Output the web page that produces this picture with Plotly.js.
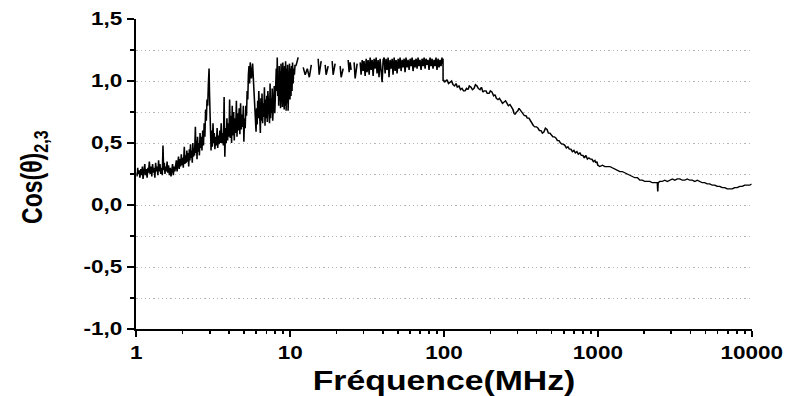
<!DOCTYPE html>
<html>
<head>
<meta charset="utf-8">
<script src="https://cdn.plot.ly/plotly-3.0.1.min.js"></script>
<style>
html,body{margin:0;padding:0;background:#fff;overflow:hidden;}
#wrap{width:788px;height:396px;overflow:hidden;}
#chart{width:630px;height:396px;transform:scaleX(1.2508);transform-origin:0 0;}
</style>
</head>
<body>
<div id="wrap"><div id="chart"></div></div>
<script>
// Frequency (MHz) and Cos(theta)_{2,3}; null = gap in the measured trace
const freq = [
1.000,1.010,1.020,1.030,1.045,1.055,1.070,1.080,1.095,1.105,1.120,1.135,1.145,1.160,1.175,1.190,1.200,1.215,1.230,1.245,
1.260,1.275,1.290,1.305,1.320,1.335,1.350,1.365,1.380,1.395,1.410,1.425,1.440,1.460,1.475,1.490,1.505,1.520,1.535,1.550,
1.565,1.585,1.600,1.620,1.640,1.660,1.680,1.700,1.720,1.740,1.760,1.780,
1.800,1.820,1.840,1.860,1.880,1.900,1.920,1.940,1.960,1.980,2.000,2.020,2.050,2.070,2.090,2.110,2.130,2.150,2.170,2.190,
2.210,2.230,2.250,2.270,2.290,2.310,2.330,2.350,2.370,2.390,2.420,2.440,2.460,2.480,2.500,2.520,2.545,2.570,2.595,2.620,
2.645,2.670,2.700,2.730,2.760,2.790,2.820,2.850,2.880,2.910,2.940,2.970,2.990,3.010,
3.030,3.060,3.090,3.120,3.150,3.180,3.210,3.240,3.280,3.310,3.350,3.380,3.420,3.450,3.490,3.520,3.560,3.600,3.640,3.680,
3.720,3.760,3.800,3.840,3.880,3.920,3.960,4.000,4.040,4.080,4.120,4.160,4.200,4.240,4.290,4.330,4.380,4.420,4.470,4.510,
4.560,4.610,4.660,4.710,4.760,4.810,4.860,4.910,4.960,5.000,5.050,5.100,5.150,5.200,5.250,5.300,5.350,5.400,5.450,5.500,
5.600,5.700,5.800,5.900,6.000,
6.050,6.100,6.150,6.200,6.250,6.300,6.350,6.400,6.450,6.500,6.560,6.620,6.680,6.740,6.800,6.860,6.920,6.980,7.040,7.100,
7.160,7.220,7.280,7.340,7.400,7.460,7.520,7.580,7.640,7.700,7.760,7.820,7.880,7.940,8.000,8.060,8.120,8.180,8.240,8.300,
8.360,8.420,8.480,8.540,8.600,8.660,8.720,8.780,8.840,8.900,8.960,9.020,9.080,9.140,9.200,9.270,9.340,9.410,9.480,9.550,
9.620,9.690,9.760,9.830,9.900,9.970,10.05,10.12,10.20,10.28,10.36,10.45,10.55,10.65,10.75,10.85,10.95,11.27,11.50,
12.15,12.52,12.92,13.32,13.72,14.0,
15.20,15.43,15.90,16.2,
16.88,17.13,17.65,18.0,
18.74,19.02,19.59,20.0,
21.12,21.44,22.09,22.5,
23.81,24.17,24.53,24.90,25.3,
26.04,26.43,27.24,27.8,
28.5,28.9,29.4,29.8,30.2,30.7,31.2,31.6,32.1,32.6,33.1,33.6,34.1,34.6,35.1,35.6,36.2,36.7,37.3,37.8,
38.4,39.0,39.6,40.2,40.8,41.4,42.0,42.6,43.3,43.9,44.6,45.3,46.0,46.6,47.4,48.1,48.8,49.5,50.3,51.0,
51.8,52.6,53.4,54.2,55.0,55.8,56.6,57.5,58.4,59.3,60.2,61.1,62.0,62.9,63.9,64.8,65.8,66.8,67.8,68.8,
69.8,70.9,72.0,73.1,74.2,75.3,76.4,77.6,78.7,79.9,81.1,82.3,83.6,84.8,86.1,87.4,88.7,90.0,91.4,92.8,
94.2,95.6,97.0,98.0,98.5,98.6,99.5,100.5,
104.6,107,109.4,112,114.4,117,119.7,122,125.1,128,130.9,134,136.9,140,143.2,146,149.7,153,156.6,160,
163.8,167,171.3,175,179.1,183,187.4,191,196.0,200,205.0,210,214.4,219,224.2,229,234.5,240,245.2,251,
256.5,262,268.3,274,280.6,285,289.1,296,302.4,307,311.5,318,325.9,333,340.8,348,356.4,364,372.8,381,
389.9,399,407.8,417,426.5,436,446.0,456,466.5,477,487.9,499,510.3,522,533.7,546,558.2,571,583.8,597,
610.6,624,638.6,653,667.9,683,698.6,714,730.6,747,764.1,781,799.2,817,835.9,855,874.3,894,914.4,935,
956.3,970,985.1,995,1000,1030,1070,1111,1150,1196,1240,1290,1340,1390,1440,1497,1550,1614,1675,1739,
1805,1874,1945,2020,2095,2176,2260,2345,2435,2450,2465,2527,2620,2723,2830,2934,3050,3162,3280,3407,
3540,3672,3810,3957,4110,4264,4430,4595,4770,4952,5140,5337,5540,5751,5970,6197,6430,6678,6930,7197,
7470,7756,8050,8358,8680,9007,9350,9705,10000
];
const cosTheta = [
0.26,0.23,0.30,0.25,0.28,0.22,0.29,0.24,0.31,0.21,0.27,0.33,0.24,0.29,0.22,0.30,0.26,0.35,0.25,0.31,
0.23,0.33,0.26,0.30,0.22,0.34,0.27,0.31,0.24,0.36,0.27,0.33,0.25,0.30,0.24,0.48,0.28,0.34,0.25,0.31,
0.27,0.35,0.26,0.32,0.24,0.30,0.23,0.29,0.33,0.24,0.31,0.27,
0.30,0.36,0.27,0.33,0.39,0.29,0.37,0.31,0.41,0.32,0.38,0.30,0.47,0.33,0.40,0.34,0.44,0.35,0.42,0.31,
0.45,0.36,0.49,0.38,0.44,0.34,0.50,0.39,0.46,0.40,0.63,0.42,0.52,0.37,0.55,0.43,0.50,0.40,0.58,0.46,
0.55,0.44,0.60,0.48,0.66,0.55,0.77,0.68,0.85,0.80,0.98,1.10,0.90,0.62,
0.52,0.44,0.60,0.47,0.66,0.50,0.58,0.45,0.55,0.48,0.62,0.46,0.56,0.49,0.60,0.50,0.66,0.50,0.58,0.48,
0.87,0.39,0.62,0.50,0.70,0.52,0.66,0.55,0.85,0.54,0.72,0.50,0.80,0.56,0.75,0.52,0.70,0.58,0.84,0.55,
0.74,0.60,0.78,0.57,0.82,0.61,0.73,0.63,0.80,0.51,0.70,0.62,0.80,0.72,0.92,0.85,1.05,1.12,0.98,1.15,
1.02,1.14,0.95,0.72,0.59,
0.78,0.65,0.84,0.70,0.92,0.64,0.80,0.58,0.86,0.68,0.90,0.66,0.82,0.71,0.95,0.64,0.85,0.70,0.88,0.67,
0.92,0.72,0.84,0.66,0.98,0.70,0.86,0.74,0.94,0.68,0.90,0.72,0.96,0.74,0.87,0.76,1.10,0.92,1.19,0.88,
1.05,0.80,1.12,0.84,1.08,0.78,1.14,0.82,1.06,0.79,1.15,0.83,1.10,0.77,1.12,0.80,1.16,0.76,1.10,0.82,
1.13,0.76,1.08,0.80,1.14,0.85,1.10,0.88,1.12,0.92,1.15,0.98,1.10,1.05,1.13,1.12,1.13,1.19,null,
1.11,1.05,1.10,1.03,1.13,null,
1.18,1.05,1.16,null,
1.13,1.05,1.12,null,
1.16,1.05,1.14,null,
1.12,1.03,1.10,null,
1.17,1.07,1.15,1.09,null,
1.15,1.02,1.14,null,
1.15,1.05,1.17,1.08,1.16,1.04,1.18,1.07,1.17,1.05,1.19,1.09,1.17,1.04,1.18,1.10,1.19,1.06,1.17,1.03,
1.18,1.08,0.99,1.17,1.19,1.06,1.18,1.09,1.19,1.03,1.17,1.10,1.18,1.05,1.19,1.08,1.17,1.06,1.18,1.10,
1.19,1.08,1.17,1.11,1.18,1.07,1.19,1.11,1.17,1.09,1.18,1.12,1.19,1.08,1.17,1.11,1.18,1.10,1.19,1.12,
1.17,1.09,1.18,1.12,1.19,1.10,1.18,1.13,1.17,1.09,1.19,1.12,1.18,1.10,1.17,1.12,1.19,1.09,1.18,1.11,
1.17,1.12,1.19,1.14,1.18,1.00,1.01,0.99,
1.01,0.98,0.99,1.00,0.97,0.96,0.98,0.95,0.96,0.93,0.94,0.92,0.92,0.94,0.93,0.96,0.95,0.93,0.94,0.97,
0.96,0.94,0.93,0.95,0.91,0.92,0.92,0.90,0.90,0.92,0.91,0.88,0.89,0.86,0.85,0.86,0.84,0.82,0.83,0.84,
0.82,0.80,0.81,0.79,0.77,0.74,0.73,0.75,0.76,0.78,0.77,0.75,0.74,0.72,0.72,0.70,0.70,0.68,0.67,0.64,
0.63,0.63,0.62,0.60,0.60,0.58,0.59,0.62,0.61,0.58,0.58,0.56,0.55,0.55,0.54,0.52,0.52,0.50,0.49,0.49,
0.48,0.46,0.47,0.45,0.45,0.43,0.44,0.42,0.43,0.41,0.42,0.40,0.40,0.38,0.40,0.37,0.38,0.37,0.37,0.35,
0.36,0.34,0.35,0.33,0.32,0.31,0.32,0.31,0.31,0.31,0.30,0.29,0.28,0.27,0.27,0.26,0.25,0.24,0.23,0.22,
0.22,0.20,0.20,0.19,0.19,0.19,0.18,0.18,0.18,0.11,0.18,0.19,0.19,0.20,0.19,0.20,0.21,0.20,0.21,0.21,
0.20,0.20,0.21,0.20,0.20,0.19,0.20,0.19,0.18,0.18,0.17,0.17,0.16,0.16,0.15,0.15,0.14,0.14,0.13,0.13,
0.13,0.14,0.14,0.15,0.15,0.16,0.16,0.16,0.17
];
const xTickVals = [1, 10, 100, 1000, 10000];
const xTickText = ['1', '10', '100', '1000', '10000'];
const yTickVals = [-1, -0.5, 0, 0.5, 1, 1.5];
const yTickText = ['-1,0', '-0,5', '0,0', '0,5', '1,0', '1,5'];
const yMinorVals = [-0.75, -0.25, 0.25, 0.75, 1.25];
const xTitle = 'Fréquence(MHz)';
const yTitle = 'Cos(θ)<sub>2,3</sub>';

const xMinor = [];
for (let d = 1; d < 10000; d *= 10) for (let k = 2; k <= 9; k++) xMinor.push(k * d);

const tickFont = {family: 'Liberation Sans, Arial, sans-serif', size: 18, color: '#000', weight: 'bold'};
const gridDash = '1px,2.4px';

const trace = {
  x: freq, y: cosTheta, type: 'scatter', mode: 'lines',
  line: {color: '#000', width: 1.25}, connectgaps: false, hoverinfo: 'skip'
};

const layout = {
  width: 630, height: 396,
  margin: {l: 108.7, r: 28.8, t: 19, b: 67, pad: 0},
  paper_bgcolor: '#fff', plot_bgcolor: '#fff',
  showlegend: false,
  xaxis: {
    type: 'log', range: [0, 4], tickmode: 'array', tickvals: xTickVals, ticktext: xTickText,
    ticks: 'outside', ticklen: 6, tickwidth: 1.6, tickcolor: '#000',
    showline: true, linewidth: 2, linecolor: '#000', showgrid: false, zeroline: false,
    tickfont: tickFont,
    minor: {tickmode: 'array', tickvals: xMinor, ticks: 'outside', ticklen: 3, tickwidth: 1.3, tickcolor: '#000', showgrid: false}
  },
  yaxis: {
    range: [-1, 1.5], tickmode: 'array', tickvals: yTickVals, ticktext: yTickText,
    ticks: 'outside', ticklen: 6, tickwidth: 2, tickcolor: '#000',
    showline: true, linewidth: 1.7, linecolor: '#000', zeroline: false,
    showgrid: true, gridcolor: '#b4b4b4', gridwidth: 1, griddash: gridDash,
    tickfont: tickFont,
    minor: {tickmode: 'array', tickvals: yMinorVals, ticks: 'outside', ticklen: 3.5, tickwidth: 2, tickcolor: '#000',
            showgrid: true, gridcolor: '#b4b4b4', gridwidth: 1, griddash: gridDash}
  },
  annotations: [
    {text: xTitle, xref: 'paper', yref: 'paper', x: 0.5, y: -0.168, xanchor: 'center', yanchor: 'middle',
     showarrow: false, font: {family: 'Liberation Sans, Arial, sans-serif', size: 27, color: '#000', weight: 'bold'}},
    {text: yTitle, xref: 'paper', yref: 'paper', x: -0.167, y: 0.49, xanchor: 'center', yanchor: 'middle',
     textangle: -90, showarrow: false, font: {family: 'Liberation Sans, Arial, sans-serif', size: 23, color: '#000', weight: 'bold'}}
  ]
};

Plotly.newPlot('chart', [trace], layout, {staticPlot: true, displayModeBar: false});
</script>
</body>
</html>
